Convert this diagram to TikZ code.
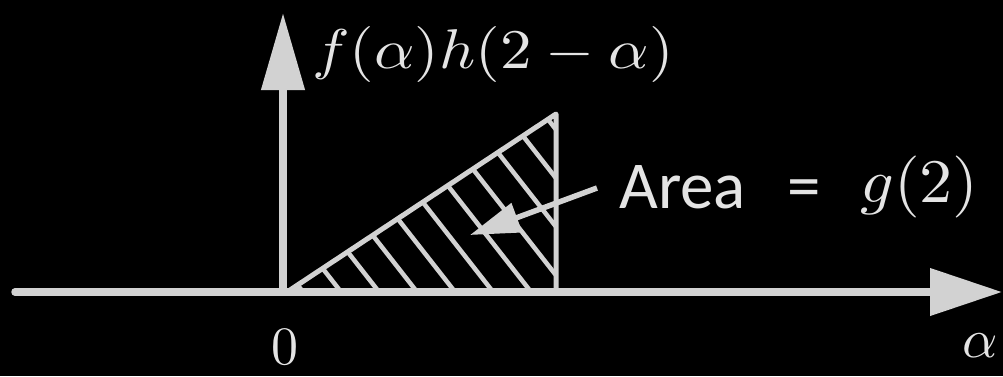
\documentclass[tikz,border=0pt]{standalone}
\usepackage{fontspec}
\newfontfamily\carlito{Carlito}
\usetikzlibrary{arrows.meta}
\definecolor{ln}{HTML}{D2D2D2}
\definecolor{tx}{HTML}{E4E4E4}
\begin{document}
\begin{tikzpicture}[x=1pt,y=-1pt,
  axis/.style={ln, line width=7.5pt},
  hatch/.style={ln, line width=4.5pt},
  pointer/.style={ln, line width=5.5pt, -{Triangle[length=50pt,width=30pt]}},
  lbl/.style={tx, inner sep=0pt},
  sanslbl/.style={tx, inner sep=0pt, font=\carlito\fontsize{67}{70}\selectfont}]
\useasboundingbox (0,0) rectangle (1003,376);
\fill[black] (0,0) rectangle (1003,376);
\coordinate (O) at (283,292);
\coordinate (xstart) at (15,292);
\coordinate (xend) at (1002,292);
\coordinate (yend) at (283,13);
\coordinate (A) at (287,292);
\coordinate (B) at (556,114);
\coordinate (C) at (556,292);
\coordinate (pstart) at (597,188);
\coordinate (ptip) at (470,235);
% hatching
\begin{scope}
  \clip (A) -- (B) -- (C) -- cycle;
  \foreach \u in {75,113,...,455} \draw[hatch] (\u+70,90) -- (\u+250,320);
\end{scope}
\draw[hatch, line width=5pt, line join=round] (A) -- (B) -- (C);
% axes
\draw[axis, line cap=round, -{Triangle[length=72pt,width=46pt]}] (xstart) -- (xend);
\draw[axis, -{Triangle[length=77pt,width=42pt]}] (O) -- (yend);
% pointer
\draw[pointer] (pstart) -- (ptip);
% labels
\node[lbl, anchor=base west] (fh) at (312,68) {\scalebox{6.3}[5.6]{$f(\alpha)h(2-\alpha)$}};
\node[sanslbl, anchor=base west] (area) at (619,208) {Area};
\node[sanslbl, anchor=base west] (eq) at (787,208) {=};
\node[lbl, anchor=base west] (g) at (860,202) {\scalebox{6.6}[6.2]{$g(2)$}};
\node[lbl, anchor=base] (zero) at (285,364) {\scalebox{5.4}{$0$}};
\node[lbl, anchor=base] (alpha) at (980,357) {\scalebox{5.5}{$\alpha$}};
\end{tikzpicture}
\end{document}
